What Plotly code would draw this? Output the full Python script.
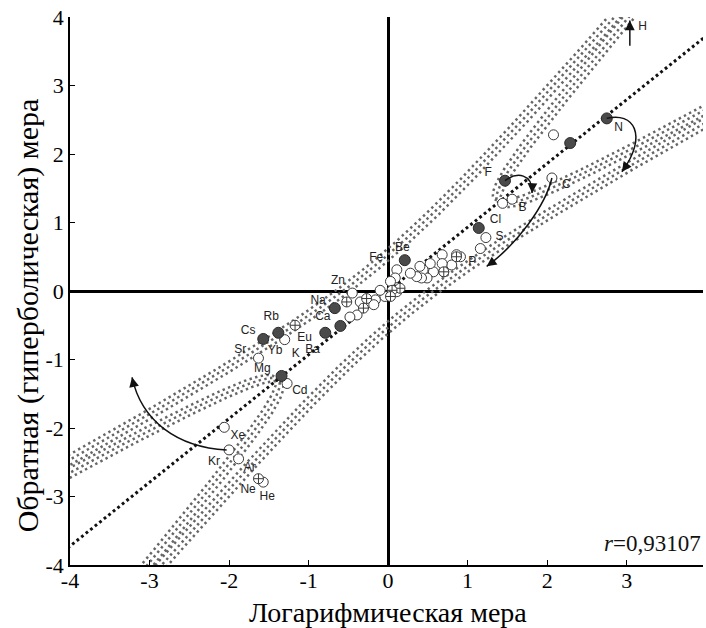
import numpy as np
import plotly.graph_objects as go

# ---------------- data ----------------
filled_x = [2.75, 2.29, 1.47, 1.14, 0.21, -0.67, -0.60, -0.79, -1.38, -1.57, -1.34]
filled_y = [2.52, 2.16, 1.61, 0.92, 0.45, -0.25, -0.51, -0.61, -0.61, -0.70, -1.24]

open_x = [2.08, 2.06, 1.56, 1.44, 1.23, 1.16, 0.91, 0.86, 0.80, 0.70, 0.68, 0.68, 0.57,
          0.53, 0.49, 0.44, 0.42, 0.40, 0.36, 0.28, 0.11, 0.11, 0.09, 0.03, -0.04,
          -0.10, -0.16, -0.18, -0.35, -0.39, -0.48, -0.45, -1.30, -1.63, -1.27,
          -2.06, -2.00, -1.88, -1.57]
open_y = [2.28, 1.65, 1.34, 1.28, 0.78, 0.62, 0.50, 0.53, 0.38, 0.28, 0.53, 0.40, 0.28,
          0.40, 0.19, 0.31, 0.19, 0.36, 0.21, 0.26, 0.31, -0.01, 0.19, 0.14, -0.08,
          0.01, -0.13, -0.20, -0.16, -0.35, -0.38, -0.03, -0.71, -0.98, -1.35,
          -1.99, -2.32, -2.45, -2.79]

cross_x = [0.86, 0.70, 0.15, 0.05, 0.03, -0.27, -0.31, -0.52, -1.17, -1.63]
cross_y = [0.50, 0.28, 0.04, 0.01, -0.08, -0.11, -0.25, -0.16, -0.50, -2.74]

label_text = ["H", "N", "F", "C", "B", "Cl", "S", "P", "Be", "Fe", "Zn", "Na", "Ca",
              "Ba", "Rb", "Cs", "Eu", "Yb", "K", "Sr", "Mg", "Cd", "Xe", "Kr", "Ar",
              "Ne", "He"]
label_x = [3.20, 2.90, 1.26, 2.24, 1.69, 1.35, 1.40, 1.06, 0.18, -0.15, -0.63, -0.88,
           -0.82, -0.95, -1.47, -1.76, -1.05, -1.42, -1.16, -1.86, -1.58, -1.11,
           -1.89, -2.19, -1.74, -1.76, -1.52]
label_y = [3.86, 2.38, 1.72, 1.55, 1.21, 1.04, 0.79, 0.42, 0.63, 0.48, 0.15, -0.15,
           -0.38, -0.86, -0.38, -0.58, -0.68, -0.88, -0.92, -0.86, -1.14, -1.46,
           -2.12, -2.50, -2.59, -2.91, -3.01]

# regression and confidence hyperbolas (model parameters)
reg_slope = 0.931
steep_slope = 1.36
shallow_slope = 0.64
c_main = 0.28
c_conj = -0.24
band_shifts = [-0.045, 0.0, 0.045]
r_text = "<i>r</i>=0,93107"
x_title = "Логарифмическая мера"
y_title = "Обратная (гиперболическая) мера"

x_ticks = [-4, -3, -2, -1, 0, 1, 2, 3]
y_ticks = [-4, -3, -2, -1, 0, 1, 2, 3, 4]

# ---------------- figure ----------------
fig = go.Figure()

def hyper_branch(c, sign, s):
    t = sign * np.geomspace(0.01, 12, 600)
    x = (c / t - t) / (steep_slope - shallow_slope)
    y = t + steep_slope * x
    return x - s, y + s

for c in (c_main, c_conj):
    for sign in (1, -1):
        for s in band_shifts:
            hx, hy = hyper_branch(c, sign, s)
            fig.add_trace(go.Scatter(x=hx, y=hy, mode="lines",
                                     line=dict(color="#666666", width=2.5, dash="2.4px,3.4px"),
                                     hoverinfo="skip", showlegend=False))

rx = np.array([-4.2, 4.2])
fig.add_trace(go.Scatter(x=rx, y=reg_slope * rx, mode="lines",
                         line=dict(color="#111111", width=3, dash="2.8px,3px"),
                         hoverinfo="skip", showlegend=False))

fig.add_trace(go.Scatter(x=open_x, y=open_y, mode="markers",
                         marker=dict(symbol="circle", size=10, color="white",
                                     line=dict(color="#3a3a3a", width=1)),
                         hoverinfo="skip", showlegend=False))
fig.add_trace(go.Scatter(x=cross_x, y=cross_y, mode="markers",
                         marker=dict(symbol="circle-cross", size=10, color="white",
                                     line=dict(color="#3a3a3a", width=1)),
                         hoverinfo="skip", showlegend=False))
fig.add_trace(go.Scatter(x=filled_x, y=filled_y, mode="markers",
                         marker=dict(symbol="circle", size=11, color="#4a4a4a",
                                     line=dict(color="#2a2a2a", width=1)),
                         hoverinfo="skip", showlegend=False))
fig.add_trace(go.Scatter(x=label_x, y=label_y, mode="text", text=label_text,
                         textfont=dict(family="Liberation Sans", size=12, color="#222222"),
                         hoverinfo="skip", showlegend=False))

# ---------------- arrows ----------------
arrow_curves = [
    [(-2.03, -2.32), (-2.65, -2.28), (-3.10, -1.90), (-3.22, -1.26)],
    [(2.06, 1.65), (1.98, 1.25), (1.62, 0.68), (1.24, 0.36)],
    [(1.47, 1.61), (1.62, 1.74), (1.82, 1.72), (1.81, 1.43)],
    [(2.75, 2.52), (3.08, 2.62), (3.28, 2.28), (2.94, 1.74)],
    [(3.04, 3.58), (3.04, 3.70), (3.04, 3.82), (3.04, 3.95)],
]
shapes = []
annotations = []
for pts in arrow_curves:
    path = "M {},{} C {},{} {},{} {},{}".format(*[v for p in pts for v in p])
    shapes.append(dict(type="path", path=path, xref="x", yref="y",
                       line=dict(color="#111111", width=1.5)))
    end = np.array(pts[3], dtype=float)
    d = end - np.array(pts[2], dtype=float)
    tail = end - 0.13 * d / np.hypot(*d)
    annotations.append(dict(x=float(end[0]), y=float(end[1]),
                            ax=float(tail[0]), ay=float(tail[1]),
                            xref="x", yref="y", axref="x", ayref="y", text="",
                            font=dict(size=1), borderpad=0,
                            showarrow=True, arrowhead=2, arrowsize=1.3, arrowwidth=1.5,
                            arrowcolor="#111111", standoff=0))

annotations.append(dict(x=1, y=-3.68, xref="paper", yref="y", xanchor="right", yanchor="middle",
                        text=r_text, showarrow=False,
                        font=dict(family="Liberation Serif", size=23, color="#111111")))
annotations.append(dict(x=0.502, y=-0.087, xref="paper", yref="paper", xanchor="center",
                        yanchor="middle", text=x_title, showarrow=False,
                        font=dict(family="Liberation Serif", size=28, color="black")))
annotations.append(dict(x=-0.066, y=0.456, xref="paper", yref="paper", xanchor="center",
                        yanchor="middle", text=y_title, showarrow=False, textangle=-90,
                        font=dict(family="Liberation Serif", size=30, color="black")))

axis_common = dict(showgrid=False, ticks="inside", ticklen=5, tickwidth=1.3, tickcolor="black",
                   showline=True, linecolor="black", linewidth=1.5,
                   zeroline=True, zerolinecolor="black", zerolinewidth=2.6,
                   automargin=False,
                   tickfont=dict(family="Liberation Serif", size=22, color="black"))

fig.update_layout(
    width=706, height=628,
    margin=dict(l=70, r=3, t=17, b=63),
    paper_bgcolor="white", plot_bgcolor="white",
    shapes=shapes, annotations=annotations,
    xaxis=dict(range=[-4, 3.96], tickvals=x_ticks, ticktext=[str(v) for v in x_ticks],
               ticklabelstandoff=-5, **axis_common),
    yaxis=dict(range=[-4, 4], tickvals=y_ticks, ticktext=[str(v) for v in y_ticks],
               **axis_common),
)

fig.write_html("out.html")
